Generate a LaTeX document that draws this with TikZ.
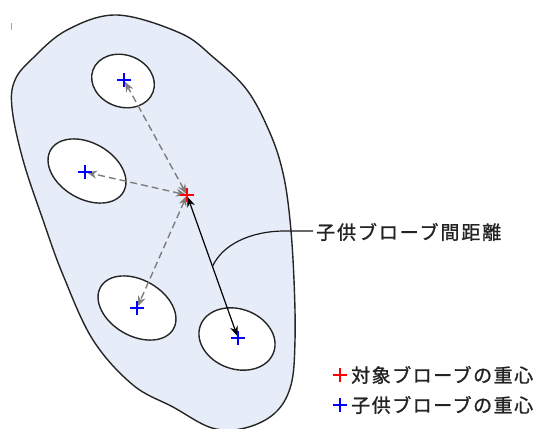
\documentclass[tikz,border=0pt]{standalone}
\usepackage{fontspec}
\newfontfamily\jp[FakeBold=1.2]{Noto Sans CJK JP}
\usetikzlibrary{arrows.meta,calc}
\definecolor{blobfill}{RGB}{231,237,248}
\definecolor{arrgray}{RGB}{125,125,125}
\definecolor{txtcol}{RGB}{35,35,35}
\definecolor{cblue}{RGB}{0,0,255}
\definecolor{cred}{RGB}{255,0,0}
\begin{document}
\begin{tikzpicture}[x=1pt,y=-1pt,
  blob/.style={draw=black!85,line width=1.4pt,fill=blobfill},
  child/.style={draw=black!85,line width=1.4pt,fill=white},
  grayarrow/.style={draw=arrgray,line width=1.4pt,dash pattern=on 7pt off 4pt,
    {Stealth[length=10pt,width=8pt]}-{Stealth[length=10pt,width=8pt]},shorten <=1pt,shorten >=2pt},
  blackarrow/.style={draw=black,line width=1.2pt,
    {Stealth[length=10pt,width=8pt]}-{Stealth[length=10pt,width=8pt]},shorten <=2pt,shorten >=2pt},
  leader/.style={draw=black!90,line width=1.2pt},
  crossline/.style={line width=2.5pt},
  lbl/.style={font=\jp\fontsize{19}{22}\selectfont\addfontfeature{LetterSpace=10},text=txtcol,inner sep=0pt,anchor=west},
  leg/.style={font=\jp\fontsize{19}{22}\selectfont\addfontfeature{LetterSpace=8},text=txtcol,inner sep=0pt,anchor=west}
]
\useasboundingbox (0,0) rectangle (539,429);
% faint artifact mark
\draw[black!35,line width=0.8pt] (11,23) -- (11,30);
% outer blob
\draw[blob] plot[smooth cycle,tension=0.6] coordinates {
  (117,15) (180,33) (213,57) (247,90) (270,133) (283,173) (290,220) (294,280)
  (295,340) (291,385) (275,413) (245,428) (212,428) (173,407) (133,385)
  (93,340) (63,275) (43,220) (23,160) (12,108) (15,80) (33,58) (67,30)};
% child probes
\draw[child] (123,81) ellipse [x radius=32, y radius=26, rotate=-20];
\draw[child] (87,171) ellipse [x radius=42, y radius=28, rotate=-30];
\draw[child] (137,308) ellipse [x radius=42, y radius=28, rotate=-30];
\draw[child] (237,339) ellipse [x radius=39, y radius=30, rotate=-20];
% centroids
\coordinate (r) at (187,195);
\coordinate (b1) at (124,80);
\coordinate (b2) at (85,172);
\coordinate (b3) at (137,308);
\coordinate (b4) at (238,338);
% arrows
\draw[grayarrow] (r) -- (b1);
\draw[grayarrow] (r) -- (b2);
\draw[grayarrow] (r) -- (b3);
\draw[blackarrow] (r) -- (b4);
% crosses
\foreach \c in {b1,b2,b3,b4}{
  \draw[crossline,cblue] ($(\c)+(-7,0)$) -- ($(\c)+(7,0)$) ($(\c)+(0,-7)$) -- ($(\c)+(0,7)$);
}
\draw[crossline,cred] ($(r)+(-7,0)$) -- ($(r)+(7,0)$) ($(r)+(0,-7)$) -- ($(r)+(0,7)$);
% distance label
\coordinate (lp) at ($(r)!0.5!(b4)$);
\node[lbl] (dist) at (316,232) {子供ブローブ間距離};
\draw[leader] (lp) .. controls (222,245) and (250,231) .. (285,231) -- ($(dist.west)+(-3,-1)$);
% legend
\coordinate (lr) at (340,375);
\coordinate (lb) at (340,405);
\draw[crossline,cred] ($(lr)+(-7,0)$) -- ($(lr)+(7,0)$) ($(lr)+(0,-7)$) -- ($(lr)+(0,7)$);
\draw[crossline,cblue] ($(lb)+(-7,0)$) -- ($(lb)+(7,0)$) ($(lb)+(0,-7)$) -- ($(lb)+(0,7)$);
\node[leg] (l1) at (351,375) {対象ブローブの重心};
\node[leg] (l2) at (351,405) {子供ブローブの重心};
\end{tikzpicture}
\end{document}
